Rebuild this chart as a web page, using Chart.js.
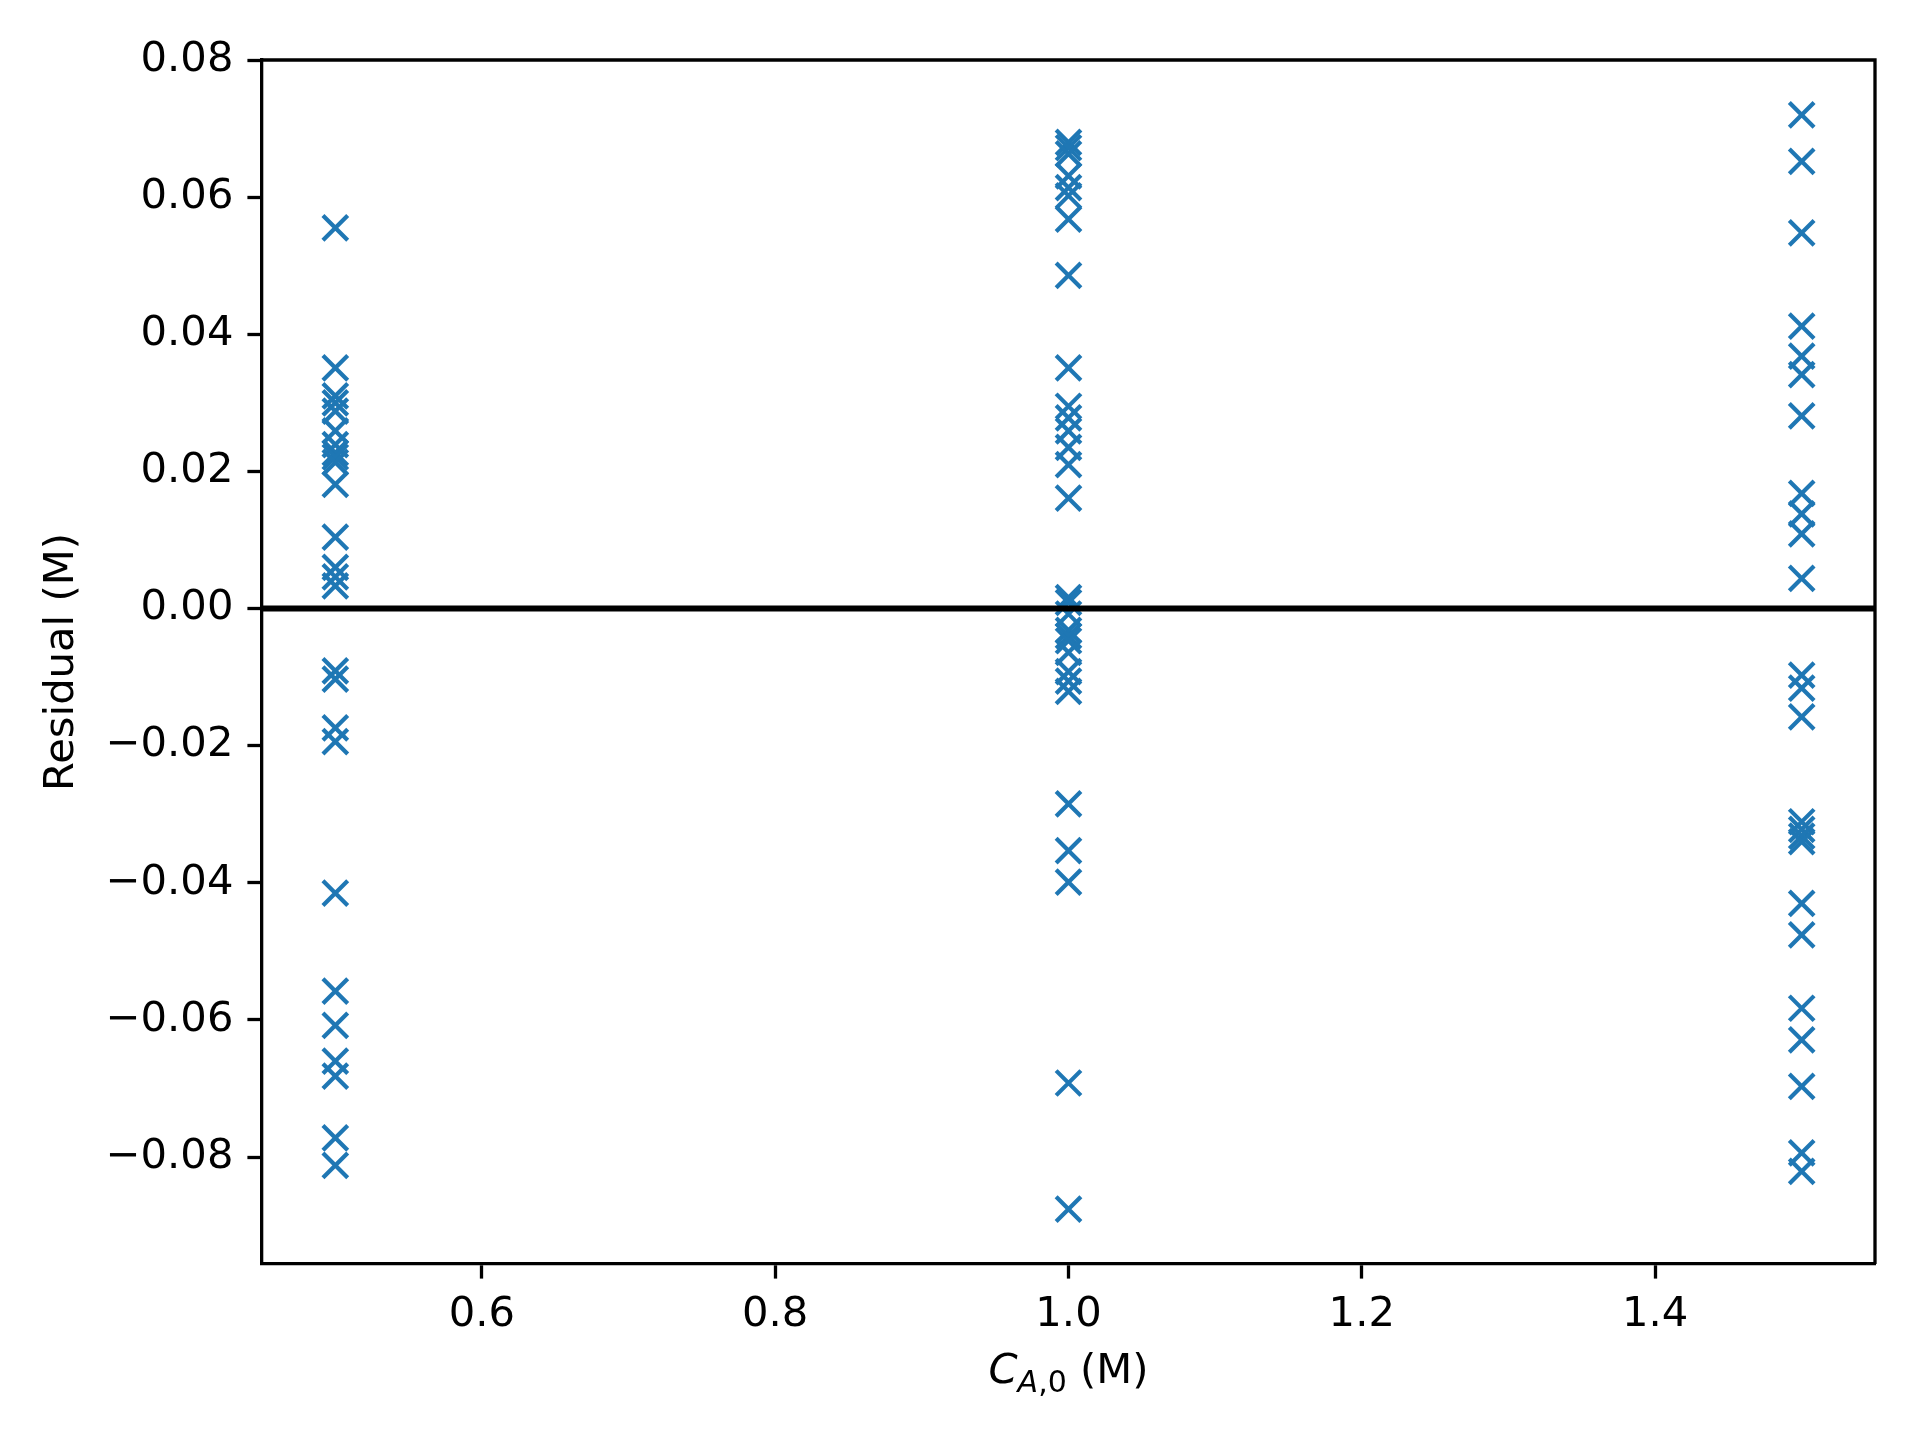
<!DOCTYPE html>
<html>
<head>
<meta charset="utf-8">
<script src="https://cdn.jsdelivr.net/npm/chart.js@4/dist/chart.umd.min.js"></script>
<style>
  html, body { margin: 0; padding: 0; background: #fff; }
  #wrap { width: 1920px; height: 1440px; }
</style>
</head>
<body>
<div id="wrap"><canvas id="myChart" width="1920" height="1440"></canvas></div>
<script>
/** Data **/
const concentrations = [0.5, 1.0, 1.5];
const residuals05 = [
  0.0555, 0.0351, 0.0310, 0.0300, 0.0288, 0.0259, 0.0239, 0.0227, 0.0221, 0.0213,
  0.0181, 0.0104, 0.0060, 0.0046, 0.0033,
  -0.0091, -0.0103, -0.0174, -0.0194, -0.0415, -0.0558, -0.0608, -0.0660, -0.0682,
  -0.0772, -0.0812,
];
const residuals10 = [
  0.0680, 0.0672, 0.0663, 0.0631, 0.0614, 0.0602, 0.0568, 0.0486, 0.0351, 0.0295,
  0.0278, 0.0259, 0.0235, 0.0210, 0.0161, 0.0016, 0.0009,
  -0.0008, -0.0032, -0.0040, -0.0047, -0.0064, -0.0092, -0.0106, -0.0121,
  -0.0285, -0.0353, -0.0399, -0.0692, -0.0876,
];
const residuals15 = [
  0.0720, 0.0652, 0.0548, 0.0412, 0.0368, 0.0341, 0.0281, 0.0168, 0.0138, 0.0109,
  0.0044,
  -0.0097, -0.0116, -0.0158, -0.0311, -0.0322, -0.0332, -0.0340, -0.0430, -0.0476,
  -0.0583, -0.0629, -0.0697, -0.0794, -0.0821,
];
const xTicks = [0.6, 0.8, 1.0, 1.2, 1.4];
const yTicks = [-0.08, -0.06, -0.04, -0.02, 0.0, 0.02, 0.04, 0.06, 0.08];
const zeroLine = 0;

//  Axis limits as matplotlib would autoscale them (5% margins)
const xMin = 0.45, xMax = 1.55;
const yMin = -0.0956, yMax = 0.0800;

const FONT = "'DejaVu Sans', sans-serif";
const FONT_PX = 41.7;
const BLUE = "#1f77b4";

//  Build the points from the arrays above
const groups = [residuals05, residuals10, residuals15];
let points = [];
for (let i = 0; i < groups.length; i++) {
  groups[i].forEach((r) => points.push({ x: concentrations[i], y: r }));
}

function fmt(v) {
  return v.toFixed(2).replace("-", "\u2212");
}

/** Plugin: zero line, frame and the two axis titles **/
const extras = {
  id: "extras",
  afterDatasetsDraw(chart) {
    const { ctx, chartArea: a, scales } = chart;
    const y0 = scales.y.getPixelForValue(zeroLine);
    ctx.save();
    ctx.strokeStyle = "#000";
    ctx.lineWidth = 6;
    ctx.beginPath();
    ctx.moveTo(a.left, y0);
    ctx.lineTo(a.right, y0);
    ctx.stroke();

    //  Top and right spines
    ctx.lineWidth = 3.3;
    ctx.beginPath();
    ctx.moveTo(a.left, a.top);
    ctx.lineTo(a.right, a.top);
    ctx.lineTo(a.right, a.bottom);
    ctx.stroke();

    //  y title
    ctx.fillStyle = "#000";
    ctx.font = FONT_PX + "px " + FONT;
    ctx.textAlign = "center";
    ctx.textBaseline = "middle";
    ctx.translate(62, (a.top + a.bottom) / 2);
    ctx.rotate(-Math.PI / 2);
    ctx.fillText("Residual (M)", 0, 0);
    ctx.setTransform(1, 0, 0, 1, 0, 0);

    //  x title: C_{A,0} (M)
    const cx = (a.left + a.right) / 2;
    const base = 1383;
    const subPx = FONT_PX * 0.72;
    const parts = [
      { t: "C", f: "oblique " + FONT_PX + "px " + FONT, dy: 0 },
      { t: "A", f: "oblique " + subPx + "px " + FONT, dy: 9 },
      { t: ",", f: subPx + "px " + FONT, dy: 9 },
      { t: "0", f: subPx + "px " + FONT, dy: 9 },
      { t: " (M)", f: FONT_PX + "px " + FONT, dy: 0 },
    ];
    ctx.textBaseline = "alphabetic";
    ctx.textAlign = "left";
    let total = 0;
    parts.forEach((p) => { ctx.font = p.f; p.w = ctx.measureText(p.t).width; total += p.w; });
    let x = cx - total / 2;
    parts.forEach((p) => {
      ctx.font = p.f;
      ctx.fillText(p.t, x, base + p.dy);
      x += p.w;
    });
    ctx.restore();
  },
};

const ctx = document.getElementById("myChart");

let myChart = new Chart(ctx, {
  type: "scatter",
  data: {
    datasets: [
      {
        data: points,
        pointStyle: "crossRot",
        radius: 17.5,
        hoverRadius: 17.5,
        borderColor: BLUE,
        backgroundColor: BLUE,
        borderWidth: 4.2,
      },
    ],
  },
  options: {
    responsive: false,
    devicePixelRatio: 1,
    animation: false,
    events: [],
    layout: { padding: { top: 60, right: 45, left: 0, bottom: 0 } },
    plugins: {
      legend: { display: false },
      tooltip: { enabled: false },
    },
    scales: {
      x: {
        type: "linear",
        min: xMin,
        max: xMax,
        afterBuildTicks: (s) => { s.ticks = xTicks.map((v) => ({ value: v })); },
        afterFit: (s) => { s.height = 176; },
        ticks: {
          callback: (v) => v.toFixed(1),
          color: "#000",
          font: { family: FONT, size: FONT_PX },
          padding: 12,
          maxRotation: 0,
        },
        grid: { drawOnChartArea: false, drawTicks: true, tickLength: 14.6, tickWidth: 3.3, color: "#000" },
        border: { display: true, color: "#000", width: 3.3 },
      },
      y: {
        type: "linear",
        min: yMin,
        max: yMax,
        afterBuildTicks: (s) => { s.ticks = yTicks.map((v) => ({ value: v })); },
        afterFit: (s) => { s.width = 262; },
        ticks: {
          callback: (v) => fmt(v),
          color: "#000",
          font: { family: FONT, size: FONT_PX },
          padding: 14,
        },
        grid: { drawOnChartArea: false, drawTicks: true, tickLength: 14.6, tickWidth: 3.3, color: "#000" },
        border: { display: true, color: "#000", width: 3.3 },
      },
    },
  },
  plugins: [extras],
});
</script>
</body>
</html>
